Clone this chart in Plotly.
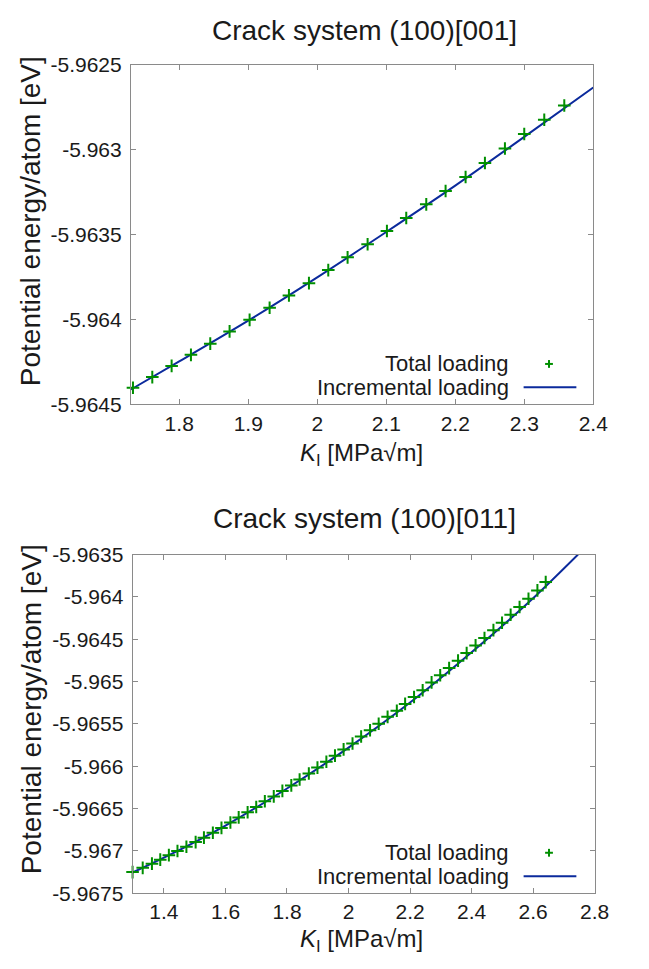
import plotly.graph_objects as go

# ---- Crack system (100)[001] ----
k_001_total = [1.733, 1.761, 1.789, 1.817, 1.845, 1.873, 1.902, 1.931, 1.959, 1.988,
               2.016, 2.044, 2.073, 2.101, 2.129, 2.158, 2.186, 2.215, 2.243, 2.272,
               2.300, 2.329, 2.358]
e_001_total = [-5.964402, -5.964339, -5.964273, -5.964208, -5.964142, -5.964070,
               -5.964002, -5.963931, -5.963858, -5.963786, -5.963709, -5.963634,
               -5.963557, -5.963479, -5.963402, -5.963322, -5.963243, -5.963161,
               -5.963079, -5.962993, -5.962908, -5.962824, -5.962740]
k_001_incr = [1.73, 1.80, 1.90, 2.00, 2.10, 2.20, 2.30, 2.40]
e_001_incr = [-5.964412, -5.964247, -5.964007, -5.963752, -5.963485, -5.963212,
              -5.962925, -5.962634]

# ---- Crack system (100)[011] ----
k_011_total = [1.298, 1.331, 1.361, 1.388, 1.416, 1.444, 1.473, 1.503, 1.530, 1.559,
               1.587, 1.616, 1.643, 1.672, 1.700, 1.728, 1.757, 1.785, 1.814, 1.841,
               1.871, 1.899, 1.928, 1.956, 1.984, 2.013, 2.041, 2.070, 2.098, 2.127,
               2.157, 2.184, 2.213, 2.241, 2.270, 2.298, 2.327, 2.356, 2.384, 2.413,
               2.442, 2.471, 2.499, 2.527, 2.556, 2.585, 2.614, 2.641]
e_011_total = [-5.967250, -5.967200, -5.967150, -5.967103, -5.967050, -5.967000,
               -5.966950, -5.966896, -5.966843, -5.966785, -5.966728, -5.966665,
               -5.966604, -5.966543, -5.966481, -5.966414, -5.966356, -5.966291,
               -5.966226, -5.966157, -5.966086, -5.966016, -5.965947, -5.965875,
               -5.965801, -5.965732, -5.965648, -5.965575, -5.965498, -5.965417,
               -5.965344, -5.965264, -5.965183, -5.965102, -5.965010, -5.964926,
               -5.964841, -5.964753, -5.964664, -5.964573, -5.964486, -5.964393,
               -5.964305, -5.964212, -5.964120, -5.964022, -5.963924, -5.963826]
k_011_incr = [1.298, 1.40, 1.60, 1.80, 2.00, 2.20, 2.40, 2.60, 2.746]
e_011_incr = [-5.967255, -5.967080, -5.966700, -5.966263, -5.965780, -5.965248,
              -5.964654, -5.964016, -5.963500]

# ---- tick labels ----
x_ticks_001 = [1.8, 1.9, 2.0, 2.1, 2.2, 2.3, 2.4]
x_text_001 = ["1.8", "1.9", "2", "2.1", "2.2", "2.3", "2.4"]
y_ticks_001 = [-5.9645, -5.964, -5.9635, -5.963, -5.9625]
y_text_001 = ["-5.9645", "-5.964", "-5.9635", "-5.963", "-5.9625"]
x_ticks_011 = [1.4, 1.6, 1.8, 2.0, 2.2, 2.4, 2.6, 2.8]
x_text_011 = ["1.4", "1.6", "1.8", "2", "2.2", "2.4", "2.6", "2.8"]
y_ticks_011 = [-5.9675, -5.967, -5.9665, -5.966, -5.9655, -5.965, -5.9645, -5.964, -5.9635]
y_text_011 = ["-5.9675", "-5.967", "-5.9665", "-5.966", "-5.9655", "-5.965",
              "-5.9645", "-5.964", "-5.9635"]

titles = ["Crack system (100)[001]", "Crack system (100)[011]"]
legend_labels = ["Total loading", "Incremental loading"]
x_label = "<i>K</i><sub>I</sub> [MPa√m]"
y_label = "Potential energy/atom [eV]"

W, H = 649, 969
FONT = "Liberation Sans, Arial, sans-serif"
GREEN = "#008f00"
BLUE = "#0b2a9c"
FRAME = "#8a8a8a"
TEXT = "#1a1a1a"


def px_x(p):
    return p / W


def px_y(p):
    return 1 - p / H


fig = go.Figure()

panels = [
    dict(k_tot=k_001_total, e_tot=e_001_total, k_inc=k_001_incr, e_inc=e_001_incr,
         xr=[1.73, 2.4], yr=[-5.9645, -5.9625], xt=x_ticks_001, xtt=x_text_001,
         yt=y_ticks_001, ytt=y_text_001, left=134, right=607.3, top=54, bottom=402,
         title_y=19, xlab_y=453, ylab_y=214, xa="x", ya="y"),
    dict(k_tot=k_011_total, e_tot=e_011_total, k_inc=k_011_incr, e_inc=e_011_incr,
         xr=[1.298, 2.8], yr=[-5.9675, -5.9635], xt=x_ticks_011, xtt=x_text_011,
         yt=y_ticks_011, ytt=y_text_011, left=135.7, right=608.7, top=555.7, bottom=902.7,
         title_y=519, xlab_y=951, ylab_y=714, xa="x2", ya="y2"),
]

annotations = []
shapes = []
for i, p in enumerate(panels):
    fig.add_trace(go.Scatter(
        x=p["k_inc"], y=p["e_inc"], mode="lines", xaxis=p["xa"], yaxis=p["ya"],
        line=dict(color=BLUE, width=2, shape="spline", smoothing=0.8),
        showlegend=False, hoverinfo="skip"))
    fig.add_trace(go.Scatter(
        x=p["k_tot"], y=p["e_tot"], mode="markers", xaxis=p["xa"], yaxis=p["ya"],
        marker=dict(symbol="cross-thin", size=9, line=dict(color=GREEN, width=2)),
        showlegend=False, cliponaxis=False, hoverinfo="skip"))

    axis_common = dict(showline=True, linecolor=FRAME, linewidth=1, mirror="ticks",
                       ticks="inside", ticklen=5, tickcolor=FRAME, tickwidth=1,
                       showgrid=False, zeroline=False,
                       tickfont=dict(family=FONT, size=21, color=TEXT))
    xkey = "xaxis" if i == 0 else "xaxis2"
    ykey = "yaxis" if i == 0 else "yaxis2"
    fig.update_layout(**{
        xkey: dict(axis_common, domain=[px_x(p["left"]), px_x(p["right"])],
                   range=p["xr"], tickvals=p["xt"], ticktext=p["xtt"],
                   anchor=p["ya"], ticklabelstandoff=0),
        ykey: dict(axis_common, domain=[px_y(p["bottom"]), px_y(p["top"])],
                   range=p["yr"], tickvals=p["yt"], ticktext=p["ytt"],
                   anchor=p["xa"], ticklabelstandoff=4),
    })

    # panel title
    annotations.append(dict(text=titles[i], x=px_x(373), y=px_y(p["title_y"]),
                            xref="paper", yref="paper", showarrow=False,
                            xanchor="center", yanchor="middle",
                            font=dict(family=FONT, size=28, color=TEXT)))
    # axis labels
    annotations.append(dict(text=x_label, x=px_x(370), y=px_y(p["xlab_y"]),
                            xref="paper", yref="paper", showarrow=False,
                            xanchor="center", yanchor="middle",
                            font=dict(family=FONT, size=24, color=TEXT)))
    annotations.append(dict(text=y_label, x=px_x(32), y=px_y(p["ylab_y"]),
                            xref="paper", yref="paper", showarrow=False, textangle=-90,
                            xanchor="center", yanchor="middle",
                            font=dict(family=FONT, size=28, color=TEXT)))
    # key: labels on the left, samples on the right
    row1 = p["bottom"] - 41.5
    row2 = p["bottom"] - 17.5
    for lbl, yy in zip(legend_labels, [row1, row2]):
        annotations.append(dict(text=lbl, x=px_x(523), y=px_y(yy), xref="paper",
                                yref="paper", showarrow=False, xanchor="right",
                                yanchor="middle",
                                font=dict(family=FONT, size=22, color=TEXT)))
    cx = 562
    shapes.append(dict(type="line", xref="paper", yref="paper",
                       x0=px_x(cx - 4), x1=px_x(cx + 4), y0=px_y(row1), y1=px_y(row1),
                       line=dict(color=GREEN, width=2)))
    shapes.append(dict(type="line", xref="paper", yref="paper",
                       x0=px_x(cx), x1=px_x(cx), y0=px_y(row1 - 4), y1=px_y(row1 + 4),
                       line=dict(color=GREEN, width=2)))
    shapes.append(dict(type="line", xref="paper", yref="paper",
                       x0=px_x(536), x1=px_x(590), y0=px_y(row2), y1=px_y(row2),
                       line=dict(color=BLUE, width=2)))

fig.update_layout(width=W, height=H, margin=dict(l=0, r=0, t=0, b=0),
                  paper_bgcolor="white", plot_bgcolor="white",
                  annotations=annotations, shapes=shapes, showlegend=False)

fig.write_html("out.html")
